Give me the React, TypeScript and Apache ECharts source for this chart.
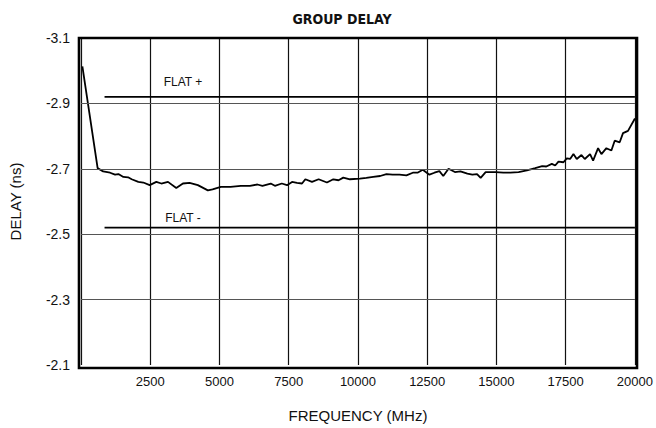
import React, { useEffect, useRef } from "react";
import * as echarts from "echarts";

const freqMHz = [
  50, 600, 800, 1050, 1230, 1350, 1530, 1700, 1830, 2070, 2250, 2480, 2720, 2900, 3140, 3440,
  3680, 3920, 4220, 4580, 4750, 5050, 5400, 5770, 6100, 6370, 6550, 6850, 7000, 7250, 7440,
  7620, 7800, 7980, 8100, 8340, 8580, 8880, 9110, 9300, 9470, 9710, 10070, 10300, 10550,
  10800, 11030, 11250, 11500, 11750, 11980, 12150, 12340, 12580, 12760, 12940, 13080, 13270,
  13500, 13700, 13950, 14130, 14300, 14430, 14610, 14970, 15250, 15500, 15800, 16100, 16400,
  16650, 16800, 17000, 17120, 17240, 17420, 17540, 17660, 17780, 17900, 18070, 18190, 18380,
  18490, 18670, 18790, 18970, 19150, 19270, 19450, 19570, 19750, 20000,
];
const delayNs = [
  -3.013, -2.702, -2.692, -2.688, -2.682, -2.684, -2.675, -2.674, -2.668, -2.66, -2.658, -2.65,
  -2.66, -2.655, -2.66, -2.641, -2.655, -2.657, -2.65, -2.634, -2.637, -2.645, -2.645, -2.648,
  -2.648, -2.652, -2.648, -2.655, -2.648, -2.655, -2.65, -2.66, -2.657, -2.655, -2.668, -2.66,
  -2.668, -2.658, -2.668, -2.665, -2.673, -2.668, -2.67, -2.672, -2.675, -2.678, -2.684,
  -2.682, -2.682, -2.68, -2.688, -2.688, -2.697, -2.682, -2.688, -2.693, -2.678, -2.7, -2.69,
  -2.692, -2.685, -2.682, -2.684, -2.672, -2.69, -2.69, -2.688, -2.688, -2.69, -2.695, -2.702,
  -2.708, -2.707, -2.715, -2.71, -2.722, -2.72, -2.732, -2.73, -2.745, -2.73, -2.742, -2.73,
  -2.745, -2.725, -2.763, -2.745, -2.763, -2.756, -2.786, -2.781, -2.809, -2.816, -2.854,
];

const flatStartMHz = 850;
const flatEndMHz = 20000;
const flatPlus = -2.92;
const flatMinus = -2.52;

const yTicks = [-3.1, -2.9, -2.7, -2.5, -2.3, -2.1];
const xTickStep = 2500;

const FONT = '"Liberation Sans", Arial, sans-serif';
const NARROW = '"Liberation Sans Narrow", "DejaVu Sans Condensed", sans-serif';

const GRID = { left: 79, right: 19, top: 38, bottom: 60 };
const W = 656;
const H = 428;

export default function App() {
  const ref = useRef<HTMLDivElement>(null);
  useEffect(() => {
    if (!ref.current) return;
    const chart = echarts.init(ref.current, undefined, { renderer: "svg" });
    const curve = freqMHz.map((f, i) => [f, delayNs[i]]);
    const innerTicks = yTicks.slice(1, -1);
    chart.setOption({
      animation: false,
      backgroundColor: "#fff",
      grid: { ...GRID, show: false },
      graphic: [
        {
          type: "rect",
          z: 100,
          silent: true,
          shape: {
            x: GRID.left,
            y: GRID.top,
            width: W - GRID.left - GRID.right,
            height: H - GRID.top - GRID.bottom,
          },
          style: { fill: "none", stroke: "#000", lineWidth: 2.6 },
        },
        {
          type: "text",
          x: 342,
          y: 19,
          style: {
            text: "GROUP DELAY",
            font: `bold 14px ${NARROW}`,
            fill: "#111",
            textAlign: "center",
            textVerticalAlign: "middle",
          },
        },
        {
          type: "text",
          x: 183,
          y: 82,
          style: {
            text: "FLAT +",
            font: `12px ${FONT}`,
            fill: "#111",
            textAlign: "center",
            textVerticalAlign: "middle",
          },
        },
        {
          type: "text",
          x: 183,
          y: 218,
          style: {
            text: "FLAT -",
            font: `12px ${FONT}`,
            fill: "#111",
            textAlign: "center",
            textVerticalAlign: "middle",
          },
        },
      ],
      xAxis: {
        type: "value",
        min: 0,
        max: 20000,
        interval: xTickStep,
        name: "FREQUENCY (MHz)",
        nameLocation: "middle",
        nameGap: 43,
        nameTextStyle: { fontFamily: FONT, fontSize: 15, color: "#111" },
        axisLine: { show: false },
        axisTick: { show: false },
        axisLabel: {
          fontFamily: FONT,
          fontSize: 13,
          color: "#111",
          margin: 10,
          formatter: (v: number) => (v === 0 ? "" : String(v)),
        },
        splitLine: { show: true, lineStyle: { color: "#111", width: 1.2 } },
      },
      yAxis: {
        type: "value",
        inverse: true,
        min: -3.1,
        max: -2.1,
        interval: 0.1,
        name: "DELAY (ns)",
        nameLocation: "middle",
        nameGap: 58,
        nameTextStyle: { fontFamily: FONT, fontSize: 15, color: "#111" },
        axisLine: { show: false },
        axisTick: { show: false },
        axisLabel: {
          fontFamily: FONT,
          fontSize: 14,
          color: "#111",
          margin: 11,
          formatter: (v: number) =>
            yTicks.some((t) => Math.abs(t - v) < 1e-6) ? v.toFixed(1) : "",
        },
        splitLine: { show: false },
      },
      series: [
        {
          type: "line",
          data: [],
          silent: true,
          markLine: {
            silent: true,
            symbol: "none",
            label: { show: false },
            lineStyle: { color: "#555", width: 1.2, type: "solid" },
            data: innerTicks.map((t) => ({ yAxis: t })),
          },
        },
        {
          type: "line",
          data: [
            [flatStartMHz, flatPlus],
            [flatEndMHz, flatPlus],
          ],
          symbol: "none",
          lineStyle: { color: "#000", width: 1.6 },
        },
        {
          type: "line",
          data: [
            [flatStartMHz, flatMinus],
            [flatEndMHz, flatMinus],
          ],
          symbol: "none",
          lineStyle: { color: "#000", width: 1.6 },
        },
        {
          type: "line",
          data: curve,
          symbol: "none",
          lineStyle: { color: "#000", width: 1.8 },
        },
      ],
    });
    return () => chart.dispose();
  }, []);
  return (
    <div
      ref={ref}
      style={{ position: "fixed", left: 0, top: 0, width: W, height: H }}
    />
  );
}
